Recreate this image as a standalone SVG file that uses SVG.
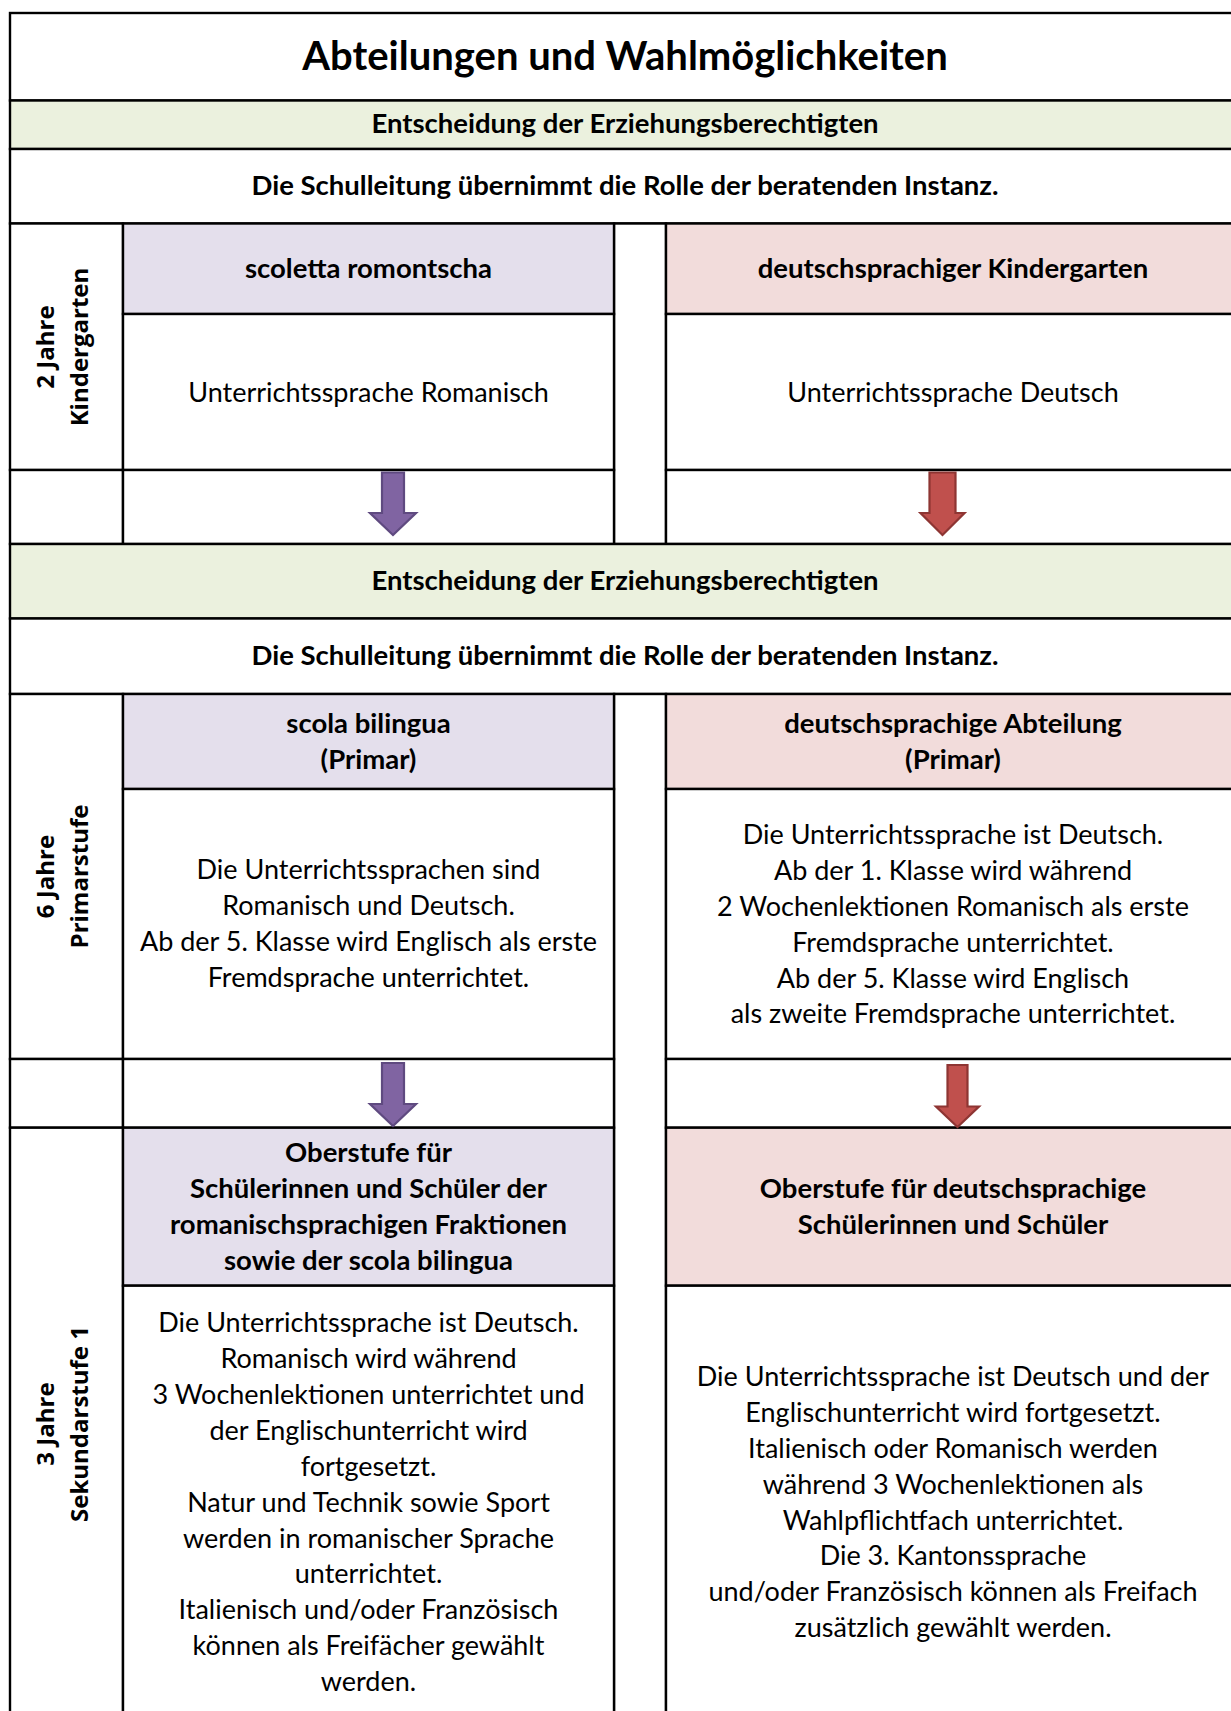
<svg xmlns="http://www.w3.org/2000/svg" width="1231" height="1711" viewBox="0 0 1231 1711">
<style>
.c{stroke:#000;stroke-width:2.4}
.w{fill:#fff}
.g{fill:#EBF1DE}
.l{fill:#E4DFEC}
.p{fill:#F2DCDB}
text{font-family:Lato,"Liberation Sans",sans-serif;fill:#000;text-anchor:middle}
.b{font-weight:700;font-size:27.5px}
.t{font-size:27px}
.h{font-weight:700;font-size:40px}
.v{font-family:"Open Sans","DejaVu Sans",sans-serif;font-weight:700;font-size:24px}
.ap{fill:#8064A2;stroke:#5F4A80;stroke-width:2.2}
.ar{fill:#C0504D;stroke:#8E3533;stroke-width:2.2}
</style>
<rect x="0" y="0" width="1231" height="1711" fill="#fff"/>

<g id="title"><rect class="c w" x="10" y="13" width="1230" height="87.5"/><text class="h" x="625" y="70">Abteilungen und Wahlmöglichkeiten</text></g>
<g id="decision1"><rect class="c g" x="10" y="100.5" width="1230" height="48.5"/><text class="b" x="625" y="133">Entscheidung der Erziehungsberechtigten</text></g>
<g id="advice1"><rect class="c w" x="10" y="149" width="1230" height="74.5"/><text class="b" x="625" y="195">Die Schulleitung übernimmt die Rolle der beratenden Instanz.</text></g>

<g id="label-kindergarten"><rect class="c w" x="10" y="223.5" width="113" height="246.5"/><rect class="c w" x="10" y="470" width="113" height="74"/>
<text class="v" transform="translate(0,347) rotate(-90)"><tspan x="0" y="54">2 Jahre</tspan><tspan x="0" y="88">Kindergarten</tspan></text></g>
<g id="gap1"><rect class="c w" x="614" y="223.5" width="52" height="320.5"/></g>
<g id="scoletta"><rect class="c l" x="123" y="223.5" width="491" height="90.5"/><text class="b" x="368.5" y="278">scoletta romontscha</text></g>
<g id="scoletta-body"><rect class="c w" x="123" y="314" width="491" height="156"/><text class="t" x="368.5" y="402">Unterrichtssprache Romanisch</text></g>
<g id="arrowcell-l1"><rect class="c w" x="123" y="470" width="491" height="74"/></g>
<g id="kindergarten-de"><rect class="c p" x="666" y="223.5" width="574" height="90.5"/><text class="b" x="953" y="278">deutschsprachiger Kindergarten</text></g>
<g id="kindergarten-de-body"><rect class="c w" x="666" y="314" width="574" height="156"/><text class="t" x="953" y="402">Unterrichtssprache Deutsch</text></g>
<g id="arrowcell-r1"><rect class="c w" x="666" y="470" width="574" height="74"/></g>

<g id="decision2"><rect class="c g" x="10" y="544" width="1230" height="74.5"/><text class="b" x="625" y="590">Entscheidung der Erziehungsberechtigten</text></g>
<g id="advice2"><rect class="c w" x="10" y="618.5" width="1230" height="75.5"/><text class="b" x="625" y="665">Die Schulleitung übernimmt die Rolle der beratenden Instanz.</text></g>

<g id="label-primar"><rect class="c w" x="10" y="694" width="113" height="365"/><rect class="c w" x="10" y="1059" width="113" height="68.7"/>
<text class="v" transform="translate(0,876.5) rotate(-90)"><tspan x="0" y="54">6 Jahre</tspan><tspan x="0" y="88">Primarstufe</tspan></text></g>
<g id="gap2"><rect class="c w" x="614" y="694" width="52" height="1030"/></g>
<g id="scola-bilingua"><rect class="c l" x="123" y="694" width="491" height="95"/><text class="b"><tspan x="368.5" y="733">scola bilingua</tspan><tspan x="368.5" y="769">(Primar)</tspan></text></g>
<g id="scola-bilingua-body"><rect class="c w" x="123" y="789" width="491" height="270"/><text class="t"><tspan x="368.5" y="879">Die Unterrichtssprachen sind</tspan><tspan x="368.5" y="915">Romanisch und Deutsch.</tspan><tspan x="368.5" y="951">Ab der 5. Klasse wird Englisch als erste</tspan><tspan x="368.5" y="987">Fremdsprache unterrichtet.</tspan></text></g>
<g id="arrowcell-l2"><rect class="c w" x="123" y="1059" width="491" height="68.7"/></g>
<g id="primar-de"><rect class="c p" x="666" y="694" width="574" height="95"/><text class="b"><tspan x="953" y="733">deutschsprachige Abteilung</tspan><tspan x="953" y="769">(Primar)</tspan></text></g>
<g id="primar-de-body"><rect class="c w" x="666" y="789" width="574" height="270"/><text class="t"><tspan x="953" y="844">Die Unterrichtssprache ist Deutsch.</tspan><tspan x="953" y="880">Ab der 1. Klasse wird während</tspan><tspan x="953" y="916">2 Wochenlektionen Romanisch als erste</tspan><tspan x="953" y="952">Fremdsprache unterrichtet.</tspan><tspan x="953" y="987.5">Ab der 5. Klasse wird Englisch</tspan><tspan x="953" y="1023">als zweite Fremdsprache unterrichtet.</tspan></text></g>
<g id="arrowcell-r2"><rect class="c w" x="666" y="1059" width="574" height="68.7"/></g>

<g id="label-sek"><rect class="c w" x="10" y="1127.7" width="113" height="600"/>
<text class="v" transform="translate(0,1424) rotate(-90)"><tspan x="0" y="54">3 Jahre</tspan><tspan x="0" y="88">Sekundarstufe 1</tspan></text></g>
<g id="oberstufe-rm"><rect class="c l" x="123" y="1127.7" width="491" height="158"/><text class="b"><tspan x="368.5" y="1162">Oberstufe für</tspan><tspan x="368.5" y="1198">Schülerinnen und Schüler der</tspan><tspan x="368.5" y="1234">romanischsprachigen Fraktionen</tspan><tspan x="368.5" y="1270">sowie der scola bilingua</tspan></text></g>
<g id="oberstufe-rm-body"><rect class="c w" x="123" y="1285.7" width="491" height="440"/><text class="t"><tspan x="368.5" y="1332">Die Unterrichtssprache ist Deutsch.</tspan><tspan x="368.5" y="1368">Romanisch wird während</tspan><tspan x="368.5" y="1404">3 Wochenlektionen unterrichtet und</tspan><tspan x="368.5" y="1440">der Englischunterricht wird</tspan><tspan x="368.5" y="1475.5">fortgesetzt.</tspan><tspan x="368.5" y="1511.5">Natur und Technik sowie Sport</tspan><tspan x="368.5" y="1547.5">werden in romanischer Sprache</tspan><tspan x="368.5" y="1583">unterrichtet.</tspan><tspan x="368.5" y="1619">Italienisch und/oder Französisch</tspan><tspan x="368.5" y="1655">können als Freifächer gewählt</tspan><tspan x="368.5" y="1691">werden.</tspan></text></g>
<g id="oberstufe-de"><rect class="c p" x="666" y="1127.7" width="574" height="158"/><text class="b"><tspan x="953" y="1198">Oberstufe für deutschsprachige</tspan><tspan x="953" y="1234">Schülerinnen und Schüler</tspan></text></g>
<g id="oberstufe-de-body"><rect class="c w" x="666" y="1285.7" width="574" height="440"/><text class="t"><tspan x="953" y="1386">Die Unterrichtssprache ist Deutsch und der</tspan><tspan x="953" y="1422">Englischunterricht wird fortgesetzt.</tspan><tspan x="953" y="1458">Italienisch oder Romanisch werden</tspan><tspan x="953" y="1494">während 3 Wochenlektionen als</tspan><tspan x="953" y="1530">Wahlpflichtfach unterrichtet.</tspan><tspan x="953" y="1565">Die 3. Kantonssprache</tspan><tspan x="953" y="1601">und/oder Französisch können als Freifach</tspan><tspan x="953" y="1637">zusätzlich gewählt werden.</tspan></text></g>

<g id="connectors">
<path class="ap" d="M382,472.5 H404 V513 H416 L393,535 L370,513 H382 Z"/>
<path class="ar" d="M929.5,472.5 H955.5 V513 H964.5 L942.5,535 L920.5,513 H929.5 Z"/>
<path class="ap" d="M382,1063 H404 V1104 H416 L393,1126 L370,1104 H382 Z"/>
<path class="ar" d="M947.5,1065 H967.5 V1106.5 H979 L957.5,1127 L936,1106.5 H947.5 Z"/>
</g>
</svg>
